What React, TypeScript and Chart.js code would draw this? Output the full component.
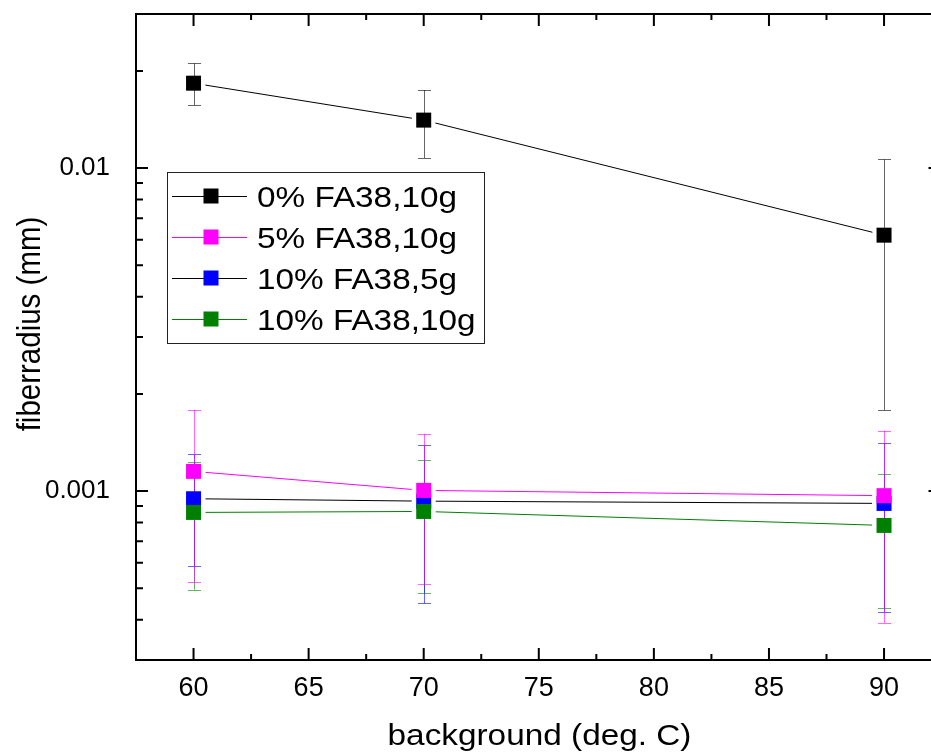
import React, { useEffect, useRef } from 'react';
import { Chart, registerables } from 'chart.js';

Chart.register(...registerables);

// ---------- data ----------
const temperatures = [60, 70, 90];
const seriesNames = ['0% FA38,10g', '5% FA38,10g', '10% FA38,5g', '10% FA38,10g'];

const radius0 = [0.01832, 0.01408, 0.0062];
const radius0High = [0.0211, 0.01744, 0.01064];
const radius0Low = [0.01567, 0.01074, 0.00178];

const radius5 = [0.001151, 0.001005, 0.000968];
const radius5High = [0.001785, 0.001504, 0.00154];
const radius5Low = [0.000524, 0.000516, 0.000391];

const radius10g5 = [0.000947, 0.000931, 0.000916];
const radius10g5High = [0.0013, 0.001388, 0.00141];
const radius10g5Low = [0.000586, 0.000449, 0.000421];

const radius10g10 = [0.000859, 0.000865, 0.000783];
const radius10g10High = [0.001227, 0.001247, 0.001129];
const radius10g10Low = [0.000495, 0.000484, 0.000434];

const xTickValues = [60, 65, 70, 75, 80, 85, 90];
const yTickValues = [0.001, 0.01];

// ---------- styles ----------
const FONT = '"Liberation Sans", Arial, sans-serif';
const markerColors = ['#000000', '#ff00ff', '#0000ff', '#008000'];
const lineColors = ['#000000', '#ff00ff', '#000000', '#008000'];
const errColors = ['rgba(0,0,0,0.6)', 'rgba(255,0,255,0.6)', 'rgba(0,0,255,0.6)', 'rgba(0,128,0,0.6)'];
const drawOrder = [3, 0, 2, 1];
const errDrawSequence = [0, 3, 2, 1];

const values = [radius0, radius5, radius10g5, radius10g10];
const highs = [radius0High, radius5High, radius10g5High, radius10g10High];
const lows = [radius0Low, radius5Low, radius10g5Low, radius10g10Low];

function stretchedText(ctx: CanvasRenderingContext2D, text: string, x: number, y: number, sx: number, align: CanvasTextAlign) {
  ctx.save();
  ctx.translate(x, y);
  ctx.scale(sx, 1);
  ctx.textAlign = align;
  ctx.textBaseline = 'alphabetic';
  ctx.fillText(text, 0, 0);
  ctx.restore();
}

const originPlugin = {
  id: 'originStyle',
  beforeDatasetsDraw(chart: any) {
    const ctx: CanvasRenderingContext2D = chart.ctx;
    const ys = chart.scales.y;
    const gap = 12;
    // connecting lines with gaps at markers
    values.forEach((_, i) => {
      const meta = chart.getDatasetMeta(i);
      ctx.save();
      ctx.strokeStyle = lineColors[i];
      ctx.lineWidth = 1;
      for (let k = 0; k < meta.data.length - 1; k++) {
        const p1 = meta.data[k];
        const p2 = meta.data[k + 1];
        const dx = p2.x - p1.x;
        const dy = p2.y - p1.y;
        const len = Math.hypot(dx, dy);
        const ux = dx / len;
        const uy = dy / len;
        ctx.beginPath();
        ctx.moveTo(p1.x + ux * gap, p1.y + uy * gap);
        ctx.lineTo(p2.x - ux * gap, p2.y - uy * gap);
        ctx.stroke();
      }
      ctx.restore();
    });
    // error bars
    errDrawSequence.forEach((i) => {
      const meta = chart.getDatasetMeta(i);
      ctx.save();
      ctx.strokeStyle = errColors[i];
      ctx.lineWidth = 1;
      meta.data.forEach((p: any, k: number) => {
        const yh = ys.getPixelForValue(highs[i][k]);
        const yl = ys.getPixelForValue(lows[i][k]);
        const x = Math.round(p.x) + 0.5;
        const cap = 6.5;
        ctx.beginPath();
        ctx.moveTo(x, yh);
        ctx.lineTo(x, yl);
        ctx.moveTo(x - cap, Math.round(yh) + 0.5);
        ctx.lineTo(x + cap, Math.round(yh) + 0.5);
        ctx.moveTo(x - cap, Math.round(yl) + 0.5);
        ctx.lineTo(x + cap, Math.round(yl) + 0.5);
        ctx.stroke();
      });
      ctx.restore();
    });
  },
  afterDraw(chart: any) {
    const ctx: CanvasRenderingContext2D = chart.ctx;
    const xs = chart.scales.x;
    const ys = chart.scales.y;
    const area = chart.chartArea;
    const L = area.left;
    const R = area.right;
    const T = area.top;
    const B = area.bottom;
    ctx.save();
    ctx.strokeStyle = '#000';
    ctx.lineWidth = 2;
    // frame (left, bottom, top)
    ctx.beginPath();
    ctx.moveTo(L, T);
    ctx.lineTo(L, B);
    ctx.moveTo(L - 1, B);
    ctx.lineTo(R, B);
    ctx.moveTo(L - 1, T);
    ctx.lineTo(R, T);
    ctx.stroke();
    // x ticks (bottom and top, inward)
    ctx.beginPath();
    for (let v = xs.min; v <= xs.max + 1e-9; v += 2.5) {
      const rv = Math.round(v * 10) / 10;
      if (rv <= xs.min + 0.1 || rv >= xs.max - 0.1) continue;
      const px = xs.getPixelForValue(rv);
      const major = Math.abs(rv % 5) < 1e-6;
      const len = major ? 12 : 6;
      ctx.moveTo(px, B);
      ctx.lineTo(px, B - len);
      ctx.moveTo(px, T);
      ctx.lineTo(px, T + len);
    }
    // y ticks (left inward; right axis major ticks just visible at edge)
    const yMinorValues: number[] = [];
    [0.0001, 0.001, 0.01].forEach((d) => {
      for (let m = 1; m <= 9; m++) yMinorValues.push(d * m);
    });
    yMinorValues.forEach((v) => {
      if (v <= ys.min * 1.01 || v >= ys.max * 0.99) return;
      const py = ys.getPixelForValue(v);
      const major = yTickValues.some((t) => Math.abs(t - v) / t < 1e-6);
      const len = major ? 12 : 7;
      ctx.moveTo(L, py);
      ctx.lineTo(L + len, py);
      if (major) {
        ctx.moveTo(R - 2.5, py);
        ctx.lineTo(R, py);
      }
    });
    ctx.stroke();

    // axis titles
    ctx.fillStyle = '#000';
    ctx.font = `29.5px ${FONT}`;
    stretchedText(ctx, 'background (deg. C)', 539.5, 745, 1.13, 'center');
    ctx.save();
    ctx.translate(40, 324);
    ctx.rotate(-Math.PI / 2);
    ctx.scale(1, 1.13);
    ctx.textAlign = 'center';
    ctx.textBaseline = 'alphabetic';
    ctx.fillText('fiberradius (mm)', 0, 0);
    ctx.restore();

    // legend
    const lx0 = 167;
    const ly0 = 172;
    const lx1 = 484;
    const ly1 = 343;
    ctx.fillStyle = '#fff';
    ctx.fillRect(lx0, ly0, lx1 - lx0, ly1 - ly0);
    ctx.strokeStyle = '#222';
    ctx.lineWidth = 1;
    ctx.strokeRect(lx0 + 0.5, ly0 + 0.5, lx1 - lx0, ly1 - ly0);
    const rowY = [196, 237, 278, 319];
    seriesNames.forEach((name, i) => {
      const cy = rowY[i];
      ctx.strokeStyle = lineColors[i];
      ctx.lineWidth = 1;
      ctx.beginPath();
      ctx.moveTo(172, cy + 0.5);
      ctx.lineTo(247, cy + 0.5);
      ctx.stroke();
      ctx.fillStyle = markerColors[i];
      ctx.fillRect(211 - 7.5, cy - 7.5, 15, 15);
      ctx.fillStyle = '#000';
      ctx.font = `30px ${FONT}`;
      stretchedText(ctx, name, 257, cy + 10.8, 1.11, 'left');
    });
    ctx.restore();
  },
};

export default function App() {
  const canvasRef = useRef<HTMLCanvasElement | null>(null);

  useEffect(() => {
    document.body.style.margin = '0';
    document.body.style.overflow = 'hidden';
    const canvas = canvasRef.current;
    if (!canvas) return;

    const datasets = values.map((vals, i) => ({
      label: seriesNames[i],
      data: temperatures.map((t, k) => ({ x: t, y: vals[k] })),
      showLine: false,
      pointStyle: 'rect' as const,
      pointRadius: 10.6,
      pointHoverRadius: 10.6,
      pointBorderWidth: 0,
      pointBackgroundColor: markerColors[i],
      pointBorderColor: markerColors[i],
      backgroundColor: markerColors[i],
      borderColor: lineColors[i],
      order: drawOrder[i],
    }));

    const chart = new Chart(canvas, {
      type: 'scatter',
      data: { datasets },
      options: {
        responsive: false,
        animation: false,
        events: [],
        layout: { autoPadding: false, padding: { top: 14, right: 0, left: 0, bottom: 0 } },
        plugins: {
          legend: { display: false },
          tooltip: { enabled: false },
        },
        scales: {
          x: {
            type: 'linear',
            min: 57.5,
            max: 92.04,
            grid: { display: false },
            border: { display: false },
            afterBuildTicks: (scale: any) => {
              scale.ticks = xTickValues.map((v) => ({ value: v }));
            },
            afterFit: (scale: any) => {
              scale.height = 95;
              scale.paddingLeft = 0;
              scale.paddingRight = 0;
              scale.paddingTop = 0;
              scale.paddingBottom = 0;
            },
            ticks: {
              color: '#000',
              font: { family: FONT, size: 27 },
              padding: 4,
              maxRotation: 0,
              callback: (v: any) => String(v),
            },
          },
          y: {
            type: 'logarithmic',
            min: 0.0003,
            max: 0.03,
            grid: { display: false },
            border: { display: false },
            afterBuildTicks: (scale: any) => {
              scale.ticks = yTickValues.map((v) => ({ value: v }));
            },
            afterFit: (scale: any) => {
              scale.width = 136;
              scale.paddingLeft = 0;
              scale.paddingRight = 0;
              scale.paddingTop = 0;
              scale.paddingBottom = 0;
            },
            ticks: {
              color: '#000',
              font: { family: FONT, size: 26 },
              padding: 18,
              callback: (v: any) => String(v),
            },
          },
        },
      },
      plugins: [originPlugin],
    });

    return () => chart.destroy();
  }, []);

  return (
    <div style={{ width: 931, height: 755, background: '#fff' }}>
      <canvas ref={canvasRef} width={931} height={755} style={{ display: 'block', width: 931, height: 755 }} />
    </div>
  );
}
